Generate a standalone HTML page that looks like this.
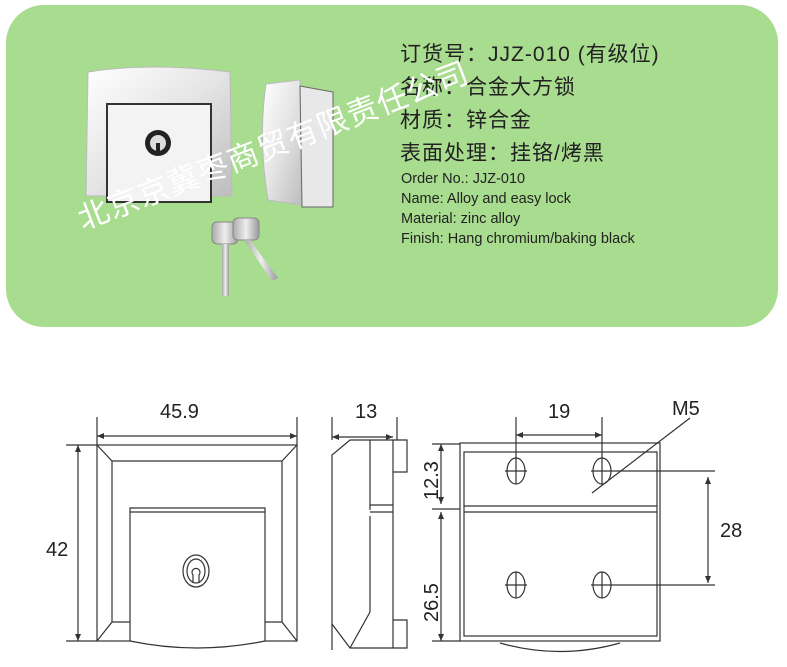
<!DOCTYPE html>
<html><head><meta charset="utf-8"><style>
body{margin:0;width:787px;height:667px;background:#fff;overflow:hidden;position:relative;font-family:"Liberation Sans","Noto Sans CJK SC",sans-serif}
.panel{position:absolute;left:6px;top:5px;width:772px;height:322px;border-radius:38px;background:#a8dc8e}
.t{position:absolute;color:#222;white-space:nowrap}
.cn{font-size:21px;left:400px;letter-spacing:1px}
.en{font-size:14.5px;left:401px;color:#222}
.wm{position:absolute;left:78px;top:118px;font-size:31px;color:#fff;white-space:nowrap;transform:rotate(-21deg);transform-origin:0 50%;letter-spacing:1px}
</style></head><body>
<div class="panel"></div>
<svg style="position:absolute;left:0;top:0" width="787" height="667">
<defs>
<linearGradient id="m" x1="0" y1="0" x2="1" y2="1"><stop offset="0" stop-color="#fff"/><stop offset=".5" stop-color="#e4e4e4"/><stop offset="1" stop-color="#bdbdbd"/></linearGradient>
<linearGradient id="k" x1="0" y1="0" x2="1" y2="0"><stop offset="0" stop-color="#aaa"/><stop offset=".5" stop-color="#eee"/><stop offset="1" stop-color="#999"/></linearGradient>
</defs>
<path d="M88 72 Q150 62 230 72 L232 196 L86 196 Z" fill="url(#m)" stroke="#bbb"/>
<rect x="107" y="104" width="104" height="98" fill="#f3f3f3" stroke="#333" stroke-width="2"/>
<circle cx="158" cy="143" r="13" fill="#222"/><circle cx="158" cy="143" r="8" fill="#ddd"/><rect x="156" y="143" width="4" height="8" fill="#222"/>
<path d="M266 84 L300 80 L302 205 L268 200 Q258 140 266 84Z" fill="url(#m)" stroke="#bbb"/>
<path d="M300 86 L333 92 L333 207 L302 207Z" fill="#e8e8e8" stroke="#666"/>
<rect x="212" y="222" width="26" height="22" rx="5" fill="url(#k)" stroke="#888"/>
<rect x="222" y="244" width="7" height="52" fill="url(#k)"/>
<rect x="233" y="218" width="26" height="22" rx="5" fill="url(#k)" stroke="#888"/>
<path d="M244 240 l6 0 l28 38 l-6 3z" fill="url(#k)"/>
<g fill="none" stroke="#333" stroke-width="1.2">
<rect x="97" y="445" width="200" height="196"/>
<path d="M97 445 L112 461 L282 461 L297 445 M112 461 L112 622 L97 641 M282 461 L282 622 L297 641 M112 622 L130 622 M265 622 L282 622"/>
<path d="M130 641 L130 508 L265 508 L265 641 Q197 655 130 641Z" fill="#fff"/>
<path d="M130 512 L265 512"/>
<ellipse cx="196" cy="571" rx="13" ry="16"/><ellipse cx="196" cy="571" rx="9" ry="12"/><path d="M193 583 v-8 a4 4 0 1 1 6 0 v8"/>
<path d="M97 417 V445 M297 417 V445 M97 436 H297 M66 445 H97 M66 641 H97 M78 445 V641"/>
<path d="M332 490 L332 480 L332 455 L350 440 L407 440 L407 472 L393 472 L393 620 L407 620 L407 648 L350 648 L332 624 Z M332 650 L332 455 M370 440 V510 M370 516 L370 612 L350 648 M393 440 V648 M370 505 H393 M370 512 H393"/>
<path d="M332 417 V440 M397 417 V440 M332 437 H393"/>
<rect x="460" y="443" width="200" height="198"/>
<rect x="464" y="452" width="193" height="184"/>
<path d="M464 506 H657 M464 512 H657 M500 643 Q560 660 620 643"/>
<ellipse cx="516" cy="471" rx="9" ry="13"/><ellipse cx="602" cy="471" rx="9" ry="13"/>
<ellipse cx="516" cy="585" rx="9" ry="13"/><ellipse cx="602" cy="585" rx="9" ry="13"/>
<path d="M505 471 H527 M516 458 V484 M505 585 H527 M516 572 V598 M591 471 H715 M602 458 V484 M591 585 H715 M602 572 V598"/>
<path d="M516 417 V458 M602 417 V458 M516 435 H602 M690 418 L592 493"/>
<path d="M432 444 H460 M432 509 H460 M441 444 V504 M441 512 V641 M432 641 H460 M708 477 V583"/>
</g>
<g fill="#333">
<path d="M97 436 l7 -3 v6z M297 436 l-7 -3 v6z M78 445 l-3 7 h6z M78 641 l-3 -7 h6z M332 437 l7 -3 v6z M393 437 l-7 -3 v6z M516 435 l7 -3 v6z M602 435 l-7 -3 v6z M441 444 l-3 7 h6z M441 504 l-3 -7 h6z M441 512 l-3 7 h6z M441 641 l-3 -7 h6z M708 477 l-3 7 h6z M708 583 l-3 -7 h6z"/>
</g>
<g font-family="Liberation Sans, sans-serif" font-size="20" fill="#222">
<text x="160" y="418">45.9</text>
<text x="355" y="418">13</text>
<text x="548" y="418">19</text>
<text x="672" y="415">M5</text>
<text x="46" y="556">42</text>
<text x="720" y="537">28</text>
<text transform="translate(438,500) rotate(-90)">12.3</text>
<text transform="translate(438,622) rotate(-90)">26.5</text>
</g>
</svg>
<div class="t cn" style="top:38px">订货号：JJZ-010 (有级位)</div>
<div class="t cn" style="top:71px">名称：合金大方锁</div>
<div class="t cn" style="top:104px">材质：锌合金</div>
<div class="t cn" style="top:137px">表面处理：挂铬/烤黑</div>
<div class="t en" style="top:171px">Order No.:  JJZ-010</div>
<div class="t en" style="top:191px">Name: Alloy and easy lock</div>
<div class="t en" style="top:211px">Material: zinc alloy</div>
<div class="t en" style="top:231px">Finish: Hang chromium/baking black</div>
<div class="wm" style="top:195px">北京京冀枣商贸有限责任公司</div>
</body></html>
